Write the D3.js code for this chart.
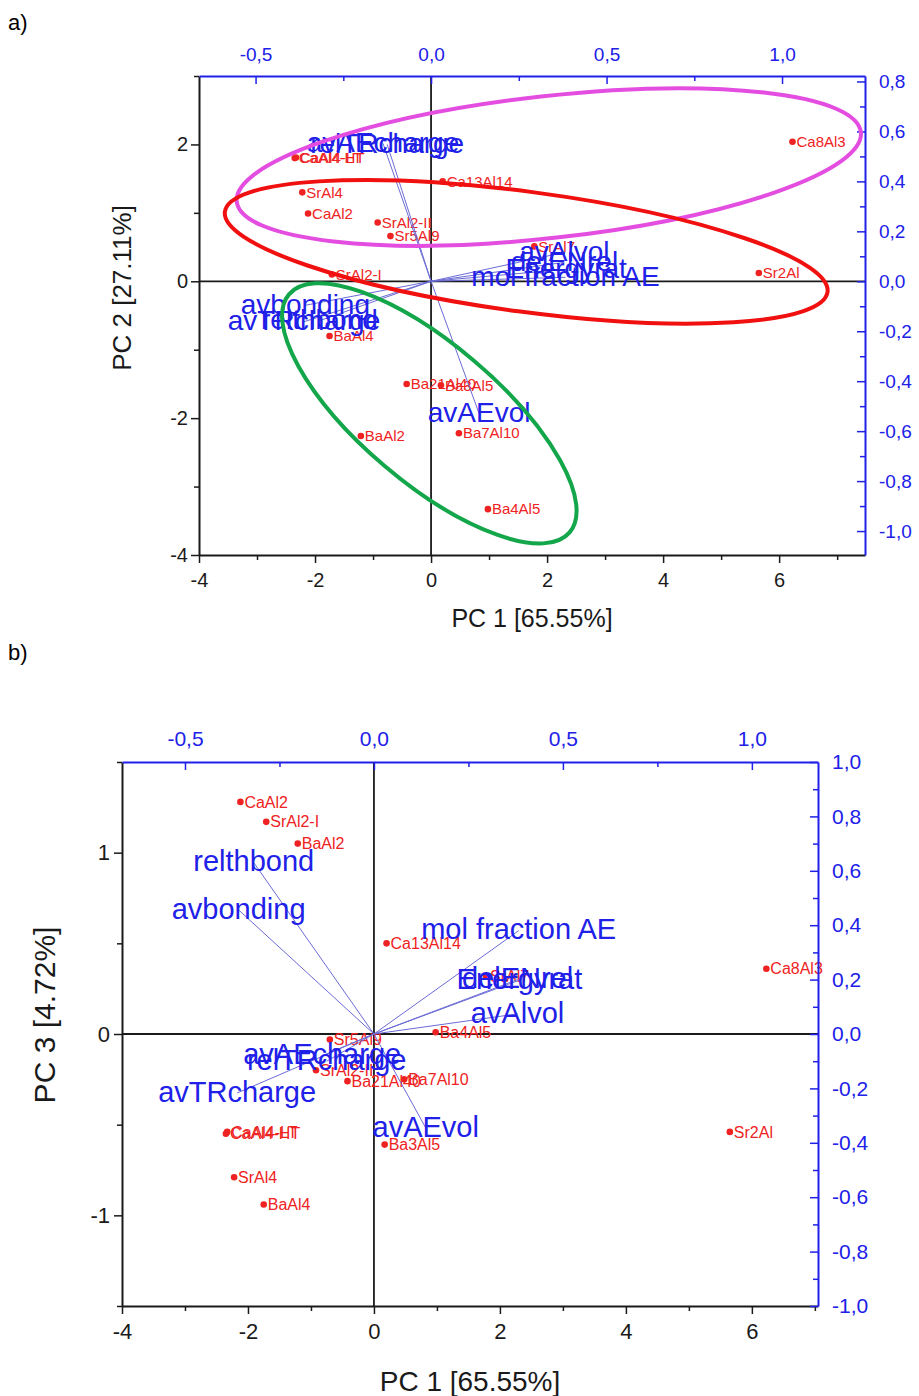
<!DOCTYPE html>
<html>
<head>
<meta charset="utf-8">
<script src="https://cdn.jsdelivr.net/npm/d3@7"></script>
<style>
  body { margin: 0; background: #fff; }
  svg { display: block; font-family: "Liberation Sans", Arial, sans-serif; }
</style>
</head>
<body>
<svg id="chart" width="919" height="1396"></svg>
<script>
// scores
const samples = ["Ca8Al3", "Sr2Al", "Ca13Al14", "CaAl4-LT", "CaAl4-HT", "SrAl4", "CaAl2", "SrAl2-II", "Sr5Al9",
                 "SrAl2-I", "SrAl7", "BaAl4", "Ba21Al40", "Ba3Al5", "Ba7Al10", "BaAl2", "Ba4Al5"];
const pc1 = [6.23, 5.65, 0.20, -2.33, -2.35, -2.22, -2.12, -0.92, -0.70, -1.71, 1.78, -1.75, -0.42, 0.17, 0.48, -1.21, 0.98];
const pc2 = [2.04, 0.12, 1.46, 1.81, 1.80, 1.30, 0.99, 0.86, 0.66, 0.10, 0.51, -0.80, -1.50, -1.52, -2.22, -2.26, -3.33];
const pc3 = [0.36, -0.54, 0.50, -0.54, -0.55, -0.79, 1.28, -0.20, -0.03, 1.17, 0.32, -0.94, -0.26, -0.61, -0.25, 1.05, 0.01];

// loadings
const loadNames = ["avAEcharge", "relTRcharge", "avAlvol", "delENrel", "Energyrat", "mol fraction AE",
                   "avbonding", "relthbond", "avTRcharge", "avAEvol"];
const load1 = [-0.137, -0.125, 0.380, 0.380, 0.385, 0.383, -0.358, -0.318, -0.362, 0.137];
const load2 = [0.552, 0.548, 0.116, 0.076, 0.048, 0.016, -0.096, -0.158, -0.162, -0.530];
const load3 = [-0.080, -0.100, 0.074, 0.200, 0.198, 0.380, 0.456, 0.630, -0.217, -0.345];

// tick values
const pcTicks = [-4, -2, 0, 2, 4, 6];
const pcMinor = [-3, -1, 1, 3, 5, 7];
const pc2Ticks = [-4, -2, 0, 2];
const pc2Minor = [-3, -1, 1, 3];
const pc3Ticks = [-1, 0, 1];
const pc3Minor = [-1.5, -0.5, 0.5, 1.5];
const loadXTicks = [-0.5, 0, 0.5, 1.0];
const loadXMinor = [-0.25, 0.25, 0.75];
const loadYTicksA = [-1.0, -0.8, -0.6, -0.4, -0.2, 0, 0.2, 0.4, 0.6, 0.8];
const loadYMinorA = [-0.9, -0.7, -0.5, -0.3, -0.1, 0.1, 0.3, 0.5, 0.7];
const loadYTicksB = [-1.0, -0.8, -0.6, -0.4, -0.2, 0, 0.2, 0.4, 0.6, 0.8, 1.0];
const loadYMinorB = [-0.9, -0.7, -0.5, -0.3, -0.1, 0.1, 0.3, 0.5, 0.7, 0.9];

const black = "#1a1a1a", blue = "#2020e8", red = "#ee2222", vecColor = "#6b6bd6";
const loc = d3.formatLocale({decimal: ",", thousands: ".", grouping: [3], currency: ["", ""], minus: "-"});
const fmtComma = loc.format(".1f");
const fmtInt = loc.format("d");

const svg = d3.select("#chart");

svg.append("text").attr("x", 8).attr("y", 30).attr("font-size", 22)
  .attr("font-family", "'Liberation Sans Narrow', 'Liberation Sans', sans-serif").text("a)");
svg.append("text").attr("x", 8).attr("y", 660).attr("font-size", 22)
  .attr("font-family", "'Liberation Sans Narrow', 'Liberation Sans', sans-serif").text("b)");

function drawPanel(o) {
  const g = svg.append("g");
  const x = d3.scaleLinear().domain(o.xDomain).range([o.left, o.right]);
  const y = d3.scaleLinear().domain(o.yDomain).range([o.bottom, o.top]);
  const xT = d3.scaleLinear().domain(o.xDomain.map(v => v / o.xRatio)).range([o.left, o.right]);
  const yR = d3.scaleLinear().domain(o.yDomain.map(v => v / o.yRatio)).range([o.bottom, o.top]);

  // zero lines
  g.append("line").attr("x1", o.left).attr("x2", o.right).attr("y1", y(0)).attr("y2", y(0))
    .attr("stroke", black).attr("stroke-width", 1.8);
  g.append("line").attr("x1", x(0)).attr("x2", x(0)).attr("y1", o.top).attr("y2", o.bottom)
    .attr("stroke", black).attr("stroke-width", 1.8);

  // score points
  const pts = g.append("g").selectAll("g")
    .data(samples.map((s, i) => ({name: s, x: pc1[i], y: o.scores[i]})))
    .join("g")
    .attr("transform", d => `translate(${x(d.x)},${y(d.y)})`);
  pts.append("circle").attr("r", 3.3).attr("fill", red);
  pts.append("text").attr("x", 4).attr("dy", "0.35em").attr("fill", red)
    .attr("font-size", o.pointFont).text(d => d.name);

  // loading vectors
  const lds = loadNames.map((n, i) => ({name: n, x: load1[i], y: o.loads[i]}));
  g.append("g").selectAll("line").data(lds).join("line")
    .attr("x1", xT(0)).attr("y1", yR(0))
    .attr("x2", d => xT(d.x)).attr("y2", d => yR(d.y))
    .attr("stroke", vecColor).attr("stroke-width", 1);
  g.append("g").selectAll("text").data(lds).join("text")
    .attr("x", d => xT(d.x)).attr("y", d => yR(d.y)).attr("dy", "0.3em")
    .attr("text-anchor", "middle").attr("fill", blue)
    .attr("font-size", o.loadFont).text(d => d.name);

  // axes
  function styleAxis(a, color, fs) {
    a.attr("font-family", null);
    a.select(".domain").attr("stroke", color).attr("stroke-width", 2);
    a.selectAll(".tick line").attr("stroke", color).attr("stroke-width", 1.5);
    a.selectAll(".tick text").attr("fill", color).attr("font-size", fs);
  }
  function minor(gen, tr, color) {
    const a = g.append("g").attr("transform", tr).call(gen);
    a.select(".domain").remove();
    a.selectAll(".tick line").attr("stroke", color).attr("stroke-width", 1.5);
  }

  minor(d3.axisBottom(x).tickValues(pcMinor.filter(v => v < o.xDomain[1])).tickSize(5).tickFormat(""),
        `translate(0,${o.bottom})`, black);
  minor(d3.axisLeft(y).tickValues(o.yMinor).tickSize(5).tickFormat(""), `translate(${o.left},0)`, black);
  minor(d3.axisTop(xT).tickValues(loadXMinor).tickSize(-5).tickFormat(""), `translate(0,${o.top})`, blue);
  minor(d3.axisRight(yR).tickValues(o.rMinor).tickSize(-5).tickFormat(""), `translate(${o.right},0)`, blue);

  styleAxis(g.append("g").attr("transform", `translate(0,${o.bottom})`)
    .call(d3.axisBottom(x).tickValues(pcTicks).tickSize(8).tickSizeOuter(0).tickPadding(o.bPad).tickFormat(fmtInt)),
    black, o.tickFont);
  styleAxis(g.append("g").attr("transform", `translate(${o.left},0)`)
    .call(d3.axisLeft(y).tickValues(o.yTicks).tickSize(8).tickSizeOuter(0).tickPadding(o.lPad).tickFormat(fmtInt)),
    black, o.tickFont);
  styleAxis(g.append("g").attr("transform", `translate(0,${o.top})`)
    .call(d3.axisTop(xT).tickValues(loadXTicks).tickSize(-8).tickSizeOuter(0).tickPadding(o.tPad).tickFormat(fmtComma)),
    blue, o.blueFont);
  styleAxis(g.append("g").attr("transform", `translate(${o.right},0)`)
    .call(d3.axisRight(yR).tickValues(o.rTicks).tickSize(-8).tickSizeOuter(0).tickPadding(o.rPad).tickFormat(fmtComma)),
    blue, o.blueFont);

  // axis titles
  g.append("text").attr("x", (o.left + o.right) / 2).attr("y", o.xTitleY)
    .attr("text-anchor", "middle").attr("font-size", o.titleFont).attr("fill", black).text("PC 1 [65.55%]");
  g.append("text").attr("transform", `translate(${o.yTitleX},${o.yTitleY}) rotate(-90)`)
    .attr("text-anchor", "middle").attr("dy", "0.35em").attr("font-size", o.yTitleFont).attr("fill", black)
    .text(o.yTitle);

  // group ellipses
  g.append("g").selectAll("ellipse").data(o.ellipses).join("ellipse")
    .attr("transform", d => `translate(${x(d.cx)},${y(d.cy)}) rotate(${d.angle})`)
    .attr("rx", d => d.rx).attr("ry", d => d.ry)
    .attr("fill", "none").attr("stroke", d => d.color).attr("stroke-width", 4);
}

drawPanel({
  left: 199, right: 865, top: 76, bottom: 555,
  xDomain: [-4, 7.48], yDomain: [-4, 3], xRatio: 6.05, yRatio: 3.65,
  scores: pc2, loads: load2,
  yTicks: pc2Ticks, yMinor: pc2Minor, rTicks: loadYTicksA, rMinor: loadYMinorA,
  pointFont: 15, loadFont: 28, tickFont: 20, blueFont: 19, titleFont: 25, yTitleFont: 26,
  bPad: 10, lPad: 3, tPad: 15, rPad: 14,
  xTitleY: 627, yTitleX: 122, yTitleY: 288, yTitle: "PC 2 [27.11%]",
  ellipses: [
    {cx: 2.03, cy: 1.67, rx: 314, ry: 71, angle: -6.35, color: "#e44ee0"},
    {cx: 1.64, cy: 0.43, rx: 304, ry: 60, angle: 7.6, color: "#f01010"},
    {cx: -0.03, cy: -1.93, rx: 184, ry: 69, angle: 40.3, color: "#14a64a"}
  ]
});

drawPanel({
  left: 122, right: 818, top: 762, bottom: 1306,
  xDomain: [-4, 7.05], yDomain: [-1.5, 1.5], xRatio: 6.0, yRatio: 1.5,
  scores: pc3, loads: load3,
  yTicks: pc3Ticks, yMinor: pc3Minor, rTicks: loadYTicksB, rMinor: loadYMinorB,
  pointFont: 16, loadFont: 29, tickFont: 22, blueFont: 21, titleFont: 28, yTitleFont: 30,
  bPad: 9, lPad: 4, tPad: 16, rPad: 14,
  xTitleY: 1391, yTitleX: 44, yTitleY: 1015, yTitle: "PC 3 [4.72%]",
  ellipses: []
});
</script>
</body>
</html>
